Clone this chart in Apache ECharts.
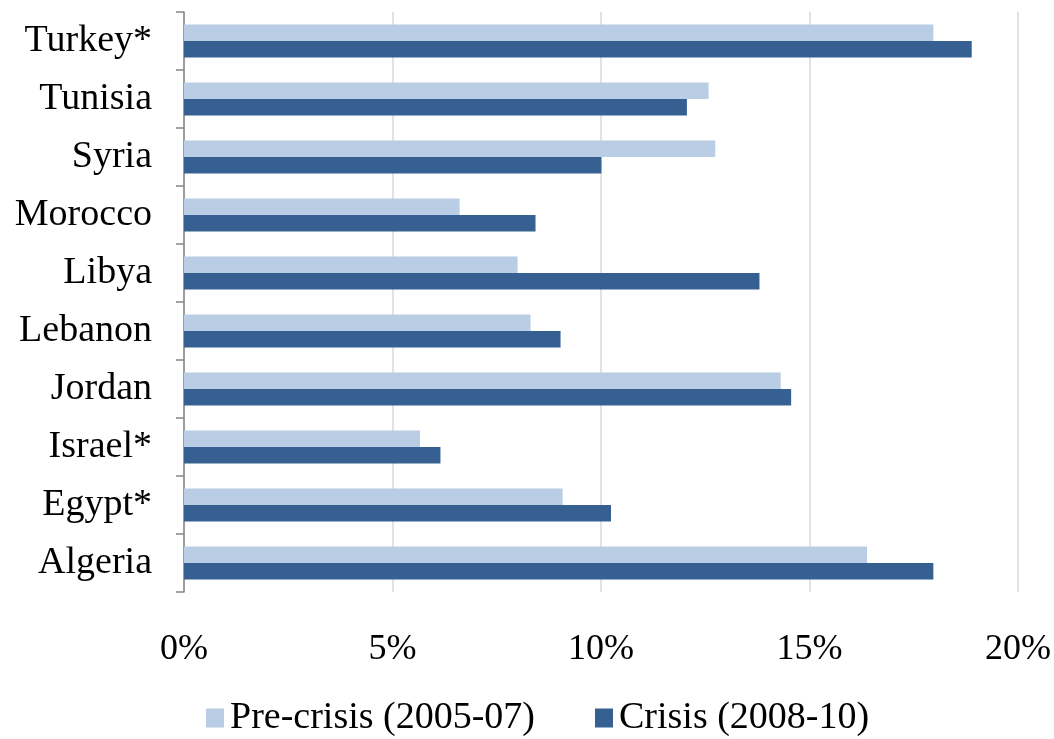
<!DOCTYPE html>
<html>
<head>
<meta charset="utf-8">
<script src="https://cdn.jsdelivr.net/npm/echarts@6/dist/echarts.min.js"></script>
<style>
  html, body { margin: 0; padding: 0; background: #ffffff; }
  #chart { width: 1054px; height: 739px; }
</style>
</head>
<body>
<div id="chart"></div>
<script>
// Countries, listed bottom to top as the category axis draws them
const countries = ['Algeria', 'Egypt*', 'Israel*', 'Jordan', 'Lebanon', 'Libya', 'Morocco', 'Syria', 'Tunisia', 'Turkey*'];
// Share values in percent
const preCrisis = [16.38, 9.08, 5.66, 14.31, 8.31, 8.0, 6.61, 12.74, 12.58, 17.97];
const crisis    = [17.97, 10.24, 6.15, 14.56, 9.03, 13.8, 8.43, 10.01, 12.06, 18.89];
const seriesNames = ['Pre-crisis (2005-07)', 'Crisis (2008-10)'];
const xTicks = [0, 5, 10, 15, 20];

const FONT = '"Liberation Serif", "Times New Roman", serif';
const chart = echarts.init(document.getElementById('chart'), null, { renderer: 'canvas' });

chart.setOption({
  animation: false,
  backgroundColor: '#ffffff',
  grid: { left: 184, right: 35, top: 12, bottom: 147, containLabel: false },
  legend: {
    data: seriesNames,
    top: 699,
    left: 206,
    padding: 0,
    itemWidth: 18,
    itemHeight: 19,
    itemGap: 60,
    icon: 'rect',
    textStyle: { fontFamily: FONT, fontSize: 38, color: '#000000', padding: [0, 0, 0, 1] }
  },
  xAxis: {
    type: 'value',
    min: xTicks[0],
    max: xTicks[xTicks.length - 1],
    interval: xTicks[1] - xTicks[0],
    axisLine: { show: false },
    axisTick: { show: false },
    splitLine: { show: true, lineStyle: { color: '#d9d9d9', width: 1.5 } },
    axisLabel: {
      margin: 40,
      fontFamily: FONT,
      fontSize: 36,
      color: '#000000',
      formatter: v => v + '%'
    }
  },
  yAxis: {
    type: 'category',
    data: countries,
    boundaryGap: true,
    axisLine: { show: true, lineStyle: { color: '#868686', width: 1.5 } },
    axisTick: { show: true, length: 8, inside: false, lineStyle: { color: '#868686', width: 1.5 } },
    axisLabel: { margin: 32, fontFamily: FONT, fontSize: 38, color: '#000000', padding: [6, 0, 0, 0] }
  },
  series: [
    {
      name: seriesNames[0],
      type: 'bar',
      data: preCrisis,
      barGap: '0%',
      barCategoryGap: '43%',
      itemStyle: { color: '#b9cde5' }
    },
    {
      name: seriesNames[1],
      type: 'bar',
      data: crisis,
      itemStyle: { color: '#366092' }
    }
  ]
});
</script>
</body>
</html>
